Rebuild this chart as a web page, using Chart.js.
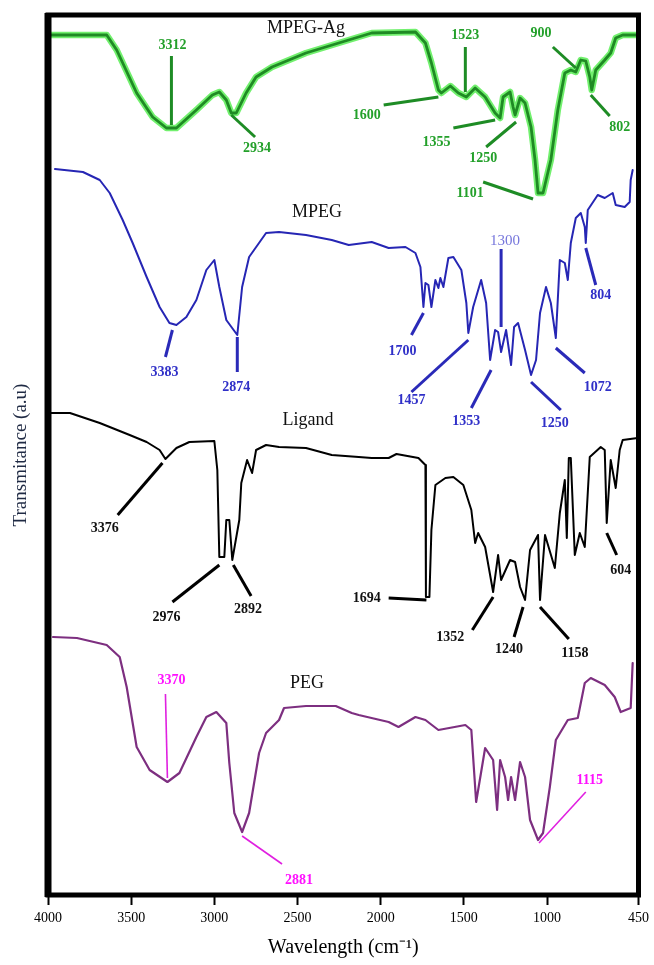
<!DOCTYPE html>
<html>
<head>
<meta charset="utf-8">
<script src="https://cdn.jsdelivr.net/npm/chart.js@4.4.1/dist/chart.umd.min.js"></script>
<style>
  html, body { margin: 0; padding: 0; background: #fff; }
  #wrap { width: 654px; height: 965px; }
</style>
</head>
<body>
<div id="wrap"><canvas id="ftir"></canvas></div>
<script>
// x axis ticks (wavenumber, cm-1)
const wnTicks = [4000, 3500, 3000, 2500, 2000, 1500, 1000, 450];

// MPEG-Ag spectrum (offset, a.u.)
const mpegAgWn = [3985, 3647, 3587, 3467, 3371, 3288, 3228, 3108, 3012, 2970, 2928, 2898, 2868, 2809, 2749, 2653, 2449, 2252, 2054, 1791, 1731, 1695, 1653, 1635, 1581, 1533, 1485, 1432, 1372, 1312, 1282, 1264, 1222, 1204, 1192, 1162, 1132, 1096, 1072, 1054, 1024, 977, 935, 893, 857, 827, 797, 767, 743, 731, 707, 653, 617, 587, 545, 455];
const mpegAgT = [86.0, 86.0, 84.5, 80.2, 77.8, 76.7, 76.7, 78.5, 80.0, 80.3, 79.5, 78.2, 78.2, 80.2, 81.8, 82.8, 84.2, 85.2, 86.2, 86.3, 85.2, 83.2, 80.5, 80.2, 80.9, 80.2, 79.8, 80.7, 79.8, 78.2, 77.7, 79.8, 80.3, 78.8, 78.0, 79.7, 79.2, 76.8, 73.5, 70.2, 70.2, 73.5, 78.5, 82.2, 82.5, 82.3, 83.5, 83.4, 81.8, 80.5, 82.5, 83.5, 84.2, 85.7, 86.0, 86.0];

// MPEG spectrum
const mpegWn = [3958, 3790, 3689, 3629, 3551, 3491, 3407, 3329, 3270, 3228, 3168, 3108, 3048, 3000, 2970, 2928, 2862, 2833, 2791, 2689, 2611, 2449, 2294, 2192, 2054, 1952, 1851, 1791, 1761, 1743, 1731, 1713, 1695, 1671, 1653, 1641, 1623, 1593, 1563, 1515, 1485, 1473, 1444, 1396, 1366, 1342, 1312, 1294, 1276, 1246, 1216, 1198, 1174, 1132, 1096, 1066, 1042, 1006, 977, 947, 923, 893, 875, 857, 827, 797, 773, 767, 755, 695, 653, 605, 587, 533, 503, 497, 485];
const mpegT = [72.6, 72.3, 71.5, 70.2, 67.5, 65.2, 61.8, 58.8, 57.2, 57.0, 57.8, 59.5, 62.5, 63.5, 60.8, 57.5, 56.0, 60.8, 63.8, 66.2, 66.3, 66.0, 65.5, 65.0, 65.3, 64.7, 64.8, 64.2, 62.8, 58.8, 61.2, 61.0, 58.8, 61.5, 60.7, 61.7, 60.8, 63.7, 63.8, 62.5, 59.2, 56.2, 58.8, 61.5, 59.2, 53.5, 56.5, 56.3, 54.3, 56.5, 53.0, 56.8, 57.2, 54.5, 52.0, 53.5, 58.2, 60.8, 59.2, 55.7, 63.5, 63.2, 61.5, 65.2, 67.7, 68.2, 66.8, 65.2, 68.5, 70.0, 69.7, 70.2, 69.0, 68.8, 69.3, 71.5, 72.5];

// Ligand spectrum
const ligandWn = [3988, 3868, 3689, 3509, 3407, 3329, 3294, 3228, 3150, 3000, 2982, 2970, 2940, 2928, 2910, 2892, 2850, 2838, 2803, 2773, 2749, 2689, 2611, 2449, 2294, 2132, 2054, 1952, 1905, 1773, 1731, 1728, 1707, 1695, 1671, 1611, 1563, 1503, 1455, 1432, 1414, 1372, 1324, 1294, 1276, 1222, 1192, 1162, 1132, 1102, 1054, 1042, 1012, 953, 923, 893, 881, 869, 857, 833, 803, 773, 743, 677, 653, 641, 617, 587, 563, 545, 455];
const ligandT = [48.2, 48.2, 47.2, 46.0, 45.3, 44.5, 43.6, 44.7, 45.3, 45.4, 42.5, 33.8, 33.8, 37.5, 37.5, 33.5, 37.5, 41.2, 43.5, 42.2, 44.5, 45.0, 44.8, 44.7, 44.0, 43.8, 43.7, 43.7, 44.1, 43.7, 43.0, 29.8, 29.8, 36.5, 41.0, 41.7, 41.8, 41.0, 38.5, 35.2, 36.2, 34.8, 30.3, 34.0, 31.5, 33.5, 33.3, 30.8, 29.5, 34.5, 36.0, 29.5, 36.0, 32.7, 38.2, 41.5, 35.7, 43.7, 43.7, 34.0, 36.2, 34.8, 43.8, 44.8, 44.5, 37.2, 43.5, 40.7, 44.5, 45.5, 45.7];

// PEG spectrum
const pegWn = [3970, 3826, 3647, 3569, 3527, 3467, 3389, 3282, 3210, 3108, 3048, 2988, 2928, 2910, 2880, 2833, 2791, 2731, 2689, 2611, 2581, 2449, 2270, 2174, 2132, 1952, 1893, 1791, 1731, 1653, 1491, 1455, 1426, 1372, 1324, 1300, 1282, 1252, 1234, 1216, 1192, 1162, 1132, 1102, 1054, 1024, 983, 947, 875, 815, 773, 737, 653, 593, 557, 497, 485];
const pegT = [25.8, 25.7, 25.0, 23.8, 20.8, 14.8, 12.5, 11.3, 12.2, 15.8, 17.8, 18.3, 17.2, 13.2, 8.2, 6.3, 8.2, 14.2, 16.2, 17.5, 18.7, 18.9, 18.9, 18.2, 18.0, 17.3, 16.8, 17.8, 17.5, 16.5, 17.0, 16.5, 9.3, 14.7, 13.5, 8.5, 13.5, 11.8, 9.5, 11.8, 9.5, 13.3, 11.8, 7.5, 5.5, 6.2, 10.8, 15.5, 17.5, 17.7, 21.2, 21.7, 21.0, 19.8, 18.3, 18.7, 23.2];

// curve names and where they sit (wavenumber, a.u.)
const seriesNames = ['MPEG-Ag', 'MPEG', 'Ligand', 'PEG'];
const nameWn = [2449, 2383, 2437, 2443];
const nameT = [86.7, 68.3, 47.5, 21.2];

// peak notes: [text, label wn, label T, leader from wn, T, leader to wn, T]
const mpegAgNotes = [
  ['3312', 3252, 85.0, 3258, 83.9, 3258, 77.0],
  ['2934', 2743, 74.7, 2898, 78.0, 2755, 75.8],
  ['1523', 1491, 86.0, 1491, 84.8, 1491, 80.3],
  ['900', 1036, 86.2, 965, 84.8, 827, 82.7],
  ['1600', 2084, 78.0, 1982, 79.0, 1653, 79.8],
  ['1355', 1665, 75.3, 1563, 76.7, 1312, 77.5],
  ['1250', 1384, 73.7, 1366, 74.8, 1186, 77.3],
  ['1101', 1462, 70.2, 1384, 71.3, 1084, 69.6],
  ['802', 563, 76.8, 737, 80.0, 623, 77.9]
];
const mpegNotes = [
  ['3383', 3300, 52.3, 3252, 56.5, 3294, 53.8],
  ['2874', 2868, 50.8, 2862, 55.8, 2862, 52.3],
  ['1700', 1869, 54.4, 1743, 58.2, 1815, 56.0],
  ['1457', 1815, 49.5, 1473, 55.5, 1815, 50.3],
  ['1353', 1485, 47.4, 1336, 52.5, 1455, 48.7],
  ['1250', 953, 47.2, 1096, 51.3, 917, 48.5],
  ['1072', 695, 50.8, 947, 54.7, 773, 52.2],
  ['804', 677, 60.0, 767, 64.7, 707, 61.0]
];
const mpegLightNotes = [
  ['1300', 1252, 65.4, 1276, 64.6, 1276, 56.8]
];
const ligandNotes = [
  ['3376', 3659, 36.7, 3312, 43.2, 3581, 38.0],
  ['2976', 3288, 27.8, 2970, 33.0, 3252, 29.3],
  ['2892', 2797, 28.6, 2886, 33.0, 2779, 29.9],
  ['1694', 2084, 29.7, 1952, 29.7, 1725, 29.5],
  ['1352', 1581, 25.8, 1324, 29.8, 1449, 26.5],
  ['1240', 1228, 24.6, 1144, 28.8, 1198, 25.8],
  ['1158', 833, 24.2, 1042, 28.8, 869, 25.6],
  ['604', 557, 32.5, 641, 36.2, 581, 34.0]
];
const pegNotes = [
  ['3370', 3258, 21.5, 3294, 20.1, 3282, 11.7],
  ['2881', 2491, 1.5, 2833, 5.9, 2593, 3.1],
  ['1115', 743, 11.5, 1048, 5.2, 767, 10.3]
];

const SERIF = '"Liberation Serif", "Times New Roman", serif';

function pts(wn, t) {
  const n = Math.min(wn.length, t.length);
  const out = [];
  for (let i = 0; i < n; i++) out.push({ x: wn[i], y: t[i] });
  return out;
}

const noteGroups = [
  { items: mpegAgNotes, text: '#23a02a', line: '#1e8c25', lw: 3, font: 'bold 14px ' + SERIF },
  { items: mpegNotes, text: '#3030c8', line: '#2a2ab8', lw: 3, font: 'bold 14px ' + SERIF },
  { items: mpegLightNotes, text: '#7676dc', line: '#2a2ab8', lw: 3, font: '15px ' + SERIF },
  { items: ligandNotes, text: '#111', line: '#000', lw: 3, font: 'bold 14px ' + SERIF },
  { items: pegNotes, text: '#ff10ff', line: '#e020e0', lw: 1.6, font: 'bold 14px ' + SERIF }
];

const frameAndNotes = {
  id: 'frameAndNotes',
  afterDatasetsDraw(chart) {
    const { ctx, chartArea: a, scales: { x, y } } = chart;
    ctx.save();
    // peak leaders and labels
    noteGroups.forEach(g => {
      g.items.forEach(n => {
        ctx.strokeStyle = g.line;
        ctx.lineWidth = g.lw;
        ctx.lineCap = 'butt';
        ctx.beginPath();
        ctx.moveTo(x.getPixelForValue(n[3]), y.getPixelForValue(n[4]));
        ctx.lineTo(x.getPixelForValue(n[5]), y.getPixelForValue(n[6]));
        ctx.stroke();
        ctx.fillStyle = g.text;
        ctx.font = g.font;
        ctx.textAlign = 'center';
        ctx.textBaseline = 'middle';
        ctx.fillText(n[0], x.getPixelForValue(n[1]), y.getPixelForValue(n[2]));
      });
    });
    // curve names
    ctx.fillStyle = '#111';
    ctx.font = '18px ' + SERIF;
    seriesNames.forEach((s, i) => {
      ctx.fillText(s, x.getPixelForValue(nameWn[i]), y.getPixelForValue(nameT[i]));
    });
    // heavy frame
    ctx.strokeStyle = '#000';
    ctx.lineWidth = 5;
    ctx.strokeRect(a.left, a.top, a.right - a.left, a.bottom - a.top);
    ctx.lineWidth = 7;
    ctx.beginPath();
    ctx.moveTo(a.left, a.top - 2);
    ctx.lineTo(a.left, a.bottom + 2);
    ctx.stroke();
    ctx.restore();
  }
};

new Chart(document.getElementById('ftir'), {
  type: 'line',
  data: {
    datasets: [
      { label: 'MPEG-Ag', data: pts(mpegAgWn, mpegAgT), borderColor: '#1f8a24', borderWidth: 2.8, order: 1 },
      { label: 'MPEG-Ag glow', data: pts(mpegAgWn, mpegAgT), borderColor: '#72f06e', borderWidth: 6.5, order: 9 },
      { label: 'MPEG', data: pts(mpegWn, mpegT), borderColor: '#2626b4', borderWidth: 2, order: 2 },
      { label: 'Ligand', data: pts(ligandWn, ligandT), borderColor: '#000', borderWidth: 2, order: 3 },
      { label: 'PEG', data: pts(pegWn, pegT), borderColor: '#7d2f80', borderWidth: 2.2, order: 4 }
    ]
  },
  options: {
    animation: false,
    responsive: true,
    maintainAspectRatio: false,
    parsing: false,
    elements: {
      point: { radius: 0 },
      line: { tension: 0, borderJoinStyle: 'round', borderCapStyle: 'round' }
    },
    layout: { padding: { top: 15, right: 13, left: 0, bottom: 0 } },
    plugins: { legend: { display: false }, tooltip: { enabled: false } },
    scales: {
      x: {
        type: 'linear',
        reverse: true,
        min: 450,
        max: 4000,
        afterBuildTicks: s => { s.ticks = wnTicks.map(v => ({ value: v })); },
        afterFit: s => { s.height = 70; },
        grid: { drawOnChartArea: false, drawTicks: true, tickLength: 10, tickColor: '#000', tickWidth: 2 },
        border: { display: false },
        ticks: {
          color: '#000',
          font: { family: SERIF, size: 14 },
          padding: 5,
          maxRotation: 0,
          autoSkip: false,
          callback: v => String(v)
        },
        title: {
          display: true,
          text: 'Wavelength (cm⁻¹)',
          color: '#000',
          font: { family: SERIF, size: 20 },
          padding: { top: 4, bottom: 5 }
        }
      },
      y: {
        min: 0,
        max: 88,
        afterFit: s => { s.width = 48; },
        ticks: { display: false },
        grid: { display: false, drawTicks: false },
        border: { display: false },
        title: {
          display: true,
          text: 'Transmitance (a.u)',
          color: '#1f2a44',
          font: { family: SERIF, size: 19 },
          padding: { top: 10, bottom: 0 }
        }
      }
    }
  },
  plugins: [frameAndNotes]
});
</script>
</body>
</html>
